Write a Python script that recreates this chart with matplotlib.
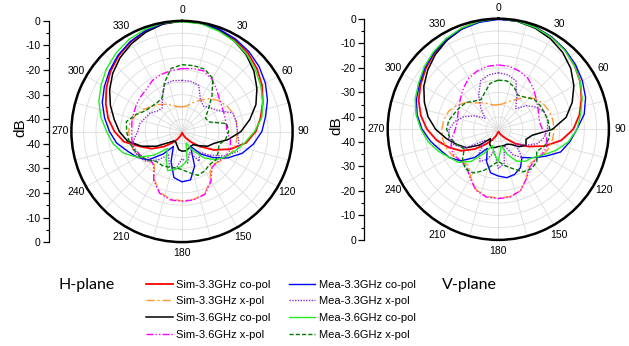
import numpy as np
import matplotlib.pyplot as plt
from matplotlib.lines import Line2D

# ============================================================
# DATA — pattern values in dB, every 10 degrees (0..350)
# ============================================================

angles = [0, 10, 20, 30, 40, 50, 60, 70, 80, 90, 100, 110,
          120, 130, 140, 150, 160, 170, 180, 190, 200, 210, 220, 230,
          240, 250, 260, 270, 280, 290, 300, 310, 320, 330, 340, 350]

# ---- H-plane ----
h_sim33_co = [0, -0.3, -0.9, -1.9, -3.3, -5.2, -7.4, -10, -12.5, -15, -18.5, -24,
              -30, -35.5, -39.5, -42, -43.5, -44.5, -44.5, -44, -43, -41.5, -39, -35.5,
              -31, -27, -21, -17.5, -14.5, -12, -9.5, -7, -4.8, -3, -1.5, -0.5]
h_sim33_x = [-35, -34.5, -32.5, -30.3, -27.5, -25.5, -24, -23, -22.6, -22.5, -22.5, -22.8,
             -24, -25.7, -27, -22, -18, -17, -16.8, -17.2, -18.6, -22.5, -27.5, -26.5,
             -24.5, -23.8, -23.4, -23.3, -23.5, -25, -27, -29, -30.7, -32.2, -33.7, -34.7]
h_sim36_co = [0, -0.3, -1, -2.5, -4.3, -6.8, -9.8, -13, -17, -21, -26, -31,
              -33, -36, -38, -38, -37.5, -37, -37, -37.5, -39, -40, -40, -38,
              -33, -27.5, -22.5, -19.5, -17, -14, -11, -8.2, -5.8, -3.8, -2, -0.6]
h_sim36_x = [-19.4, -19, -18.8, -20.5, -23, -25, -26, -26.5, -26.8, -26.7, -25, -24,
             -24.5, -26, -26, -21.5, -17.8, -16.8, -16.5, -16.8, -18.3, -22, -27, -28,
             -25.5, -24.5, -24.3, -24.5, -24.3, -24, -23.5, -23, -22.5, -21, -20.3, -19.8]
h_mea33_co = [0, -0.2, -0.7, -1.5, -2.6, -4, -5.8, -8, -10.5, -12.5, -15.5, -19,
              -23.5, -28.5, -33, -38, -30, -25, -24.5, -26, -32, -38, -33, -27,
              -24, -21.5, -18, -15.5, -13, -10.5, -8.5, -6.5, -4.5, -2.8, -1.4, -0.4]
h_mea33_x = [-24.2, -24.3, -25, -30, -31.5, -30, -28, -23, -22.5, -22.5, -21.5, -21,
             -25, -30, -34, -31, -36, -32, -34, -29, -30, -34, -30, -26,
             -24.5, -23.8, -25, -27, -27.5, -29, -30, -32, -32.5, -29, -24.5, -24]
h_mea36_co = [-0.3, -0.5, -1.5, -2.5, -4, -6, -8, -10, -12, -15.5, -19, -22,
              -24.5, -27, -31, -36, -40, -33, -31, -29.5, -28, -32, -36, -30,
              -24, -19.5, -16.5, -14.3, -11.5, -9, -7, -5, -3.3, -1.8, -0.8, -0.2]
h_mea36_x = [-17.8, -17.8, -18, -20, -26, -31, -34, -33.5, -26.5, -26, -27, -29,
             -28, -27, -27.5, -26.5, -26, -28, -29.5, -30, -29.5, -29, -29, -27,
             -25, -24, -23, -22.5, -22, -25, -28, -29, -29.5, -29, -24, -19]

# ---- V-plane ----
v_sim33_co = [0, -0.2, -0.8, -1.7, -2.9, -4.5, -6.5, -9, -11.5, -14.5, -19, -25,
              -31, -36, -40, -42, -43, -44, -44, -43.5, -42, -40, -37, -32.5,
              -27.5, -23.5, -19.5, -16, -13, -10.5, -8.5, -6.5, -4.5, -2.8, -1.3, -0.4]
v_sim33_x = [-35, -34.5, -33, -31, -28, -25.5, -24, -23, -22.5, -22.3, -22.5, -23,
             -24, -25.5, -26, -22, -18.5, -17.2, -17, -17.3, -18.8, -22.5, -26, -25,
             -23.5, -22.5, -22, -22, -22.5, -23.5, -25.5, -28, -31, -32.5, -34, -35]
v_sim36_co = [0, -0.4, -1.2, -2.5, -4.2, -6.5, -9.5, -13, -17, -23, -31, -33,
              -32, -34, -37, -38, -38, -38, -38, -37.5, -37, -38, -40, -35,
              -30, -27, -23.5, -19.5, -16, -13, -10, -7.5, -5.2, -3.2, -1.6, -0.5]
v_sim36_x = [-18.8, -19, -19.8, -21, -23, -25, -26.5, -27.5, -28, -27, -25, -24,
             -24.5, -25.5, -25, -22, -18.5, -17, -16.8, -17, -18.5, -22, -25, -25,
             -24, -24.5, -26, -27.5, -28, -27.5, -26.5, -25, -23, -21, -19.8, -19]
v_mea33_co = [-0.3, -0.3, -0.8, -1.6, -2.7, -4, -5.5, -7.2, -9.5, -13, -15.5, -18,
              -23, -27, -30, -27, -25.5, -25, -26, -27, -31, -36, -30, -25,
              -22, -20, -17, -14, -11.5, -9.5, -8, -6, -4.3, -2.8, -1.6, -0.8]
v_mea33_x = [-22, -22.5, -24, -30, -34, -30, -27, -25, -24.5, -25, -26, -28,
             -32, -36, -30, -33, -38, -31, -29, -36, -32, -30, -33, -38,
             -30, -26, -24.5, -25, -27, -30, -34, -38, -34, -29, -24, -22.5]
v_mea36_co = [0, -0.3, -0.9, -1.8, -3, -4.6, -6.5, -8.7, -11, -13, -16, -20,
              -24, -27, -28, -30, -34, -38, -32, -35, -38, -34, -28, -24,
              -22, -19, -16, -13.5, -11, -9, -7.5, -5.6, -3.9, -2.4, -1.2, -0.4]
v_mea36_x = [-25, -25, -26.5, -29, -28, -26, -25.5, -25, -24.5, -24, -24, -25,
             -27, -24.5, -24, -25, -28, -30, -32, -30, -27, -24.5, -24, -26,
             -29, -27, -25, -24, -24.5, -26, -27, -28, -30, -31, -29, -26]

labels = ['Sim-3.3GHz co-pol', 'Sim-3.3GHz x-pol', 'Sim-3.6GHz co-pol', 'Sim-3.6GHz x-pol',
          'Mea-3.3GHz co-pol', 'Mea-3.3GHz x-pol', 'Mea-3.6GHz co-pol', 'Mea-3.6GHz x-pol']

h_series = [h_sim33_co, h_sim33_x, h_sim36_co, h_sim36_x,
            h_mea33_co, h_mea33_x, h_mea36_co, h_mea36_x]
v_series = [v_sim33_co, v_sim33_x, v_sim36_co, v_sim36_x,
            v_mea33_co, v_mea33_x, v_mea36_co, v_mea36_x]

# ============================================================
# STYLES
# ============================================================

styles = [
    dict(color='#ff0000', lw=1.3, ls='-'),
    dict(color='#ff9933', lw=1.0, ls=(0, (6, 2, 1.5, 2))),
    dict(color='#000000', lw=1.1, ls='-'),
    dict(color='#ff00ff', lw=1.0, ls=(0, (5, 1.5, 1, 1.5, 1, 1.5))),
    dict(color='#0000ff', lw=1.0, ls='-'),
    dict(color='#8a2be2', lw=1.0, ls=(0, (1, 1))),
    dict(color='#22ee22', lw=1.0, ls='-'),
    dict(color='#007a00', lw=1.0, ls=(0, (3, 1.5))),
]

plt.rcParams['font.family'] = ['Liberation Sans', 'DejaVu Sans']

fig = plt.figure(figsize=(6.29, 3.46), dpi=100)

theta = np.deg2rad(angles + [360])


def polar_panel(rect, series):
    ax = fig.add_axes(rect, projection='polar')
    ax.set_theta_zero_location('N')
    ax.set_theta_direction(-1)
    ax.set_ylim(-45, 0)
    ax.set_yticks(np.arange(-40, 0, 5))
    ax.set_yticklabels([])
    ax.set_xticks(np.deg2rad(np.arange(0, 360, 30)))
    ax.set_xticklabels([str(a) for a in range(0, 360, 30)], fontsize=7.5)
    ax.set_xticks(np.deg2rad(np.arange(15, 360, 30)), minor=True)
    ax.grid(True, which='both', color='#dcdcdc', lw=0.6)
    ax.tick_params(axis='x', which='major', direction='in', length=4, width=1, pad=1)
    ax.tick_params(axis='x', which='minor', direction='in', length=2.5, width=0.8)
    ax.spines['polar'].set_linewidth(1.8)
    for vals, st in zip(series, styles):
        ax.plot(theta, vals + [vals[0]], **st)
    return ax


def db_axis(x, bottom, height):
    ax = fig.add_axes([x, bottom, 0.0001, height])
    ax.patch.set_visible(False)
    for s in ['right', 'top', 'bottom']:
        ax.spines[s].set_visible(False)
    ax.spines['left'].set_linewidth(0.9)
    ax.set_xticks([])
    ax.set_ylim(-45, 45)
    ax.set_yticks([45, 35, 25, 15, 5, -5, -15, -25, -35, -45])
    ax.set_yticklabels(['0', '-10', '-20', '-30', '-40', '-40', '-30', '-20', '-10', '0'],
                       fontsize=7.5)
    ax.set_yticks([40, 30, 20, 10, 0, -10, -20, -30, -40], minor=True)
    ax.tick_params(axis='y', which='major', length=4, width=0.9, pad=2)
    ax.tick_params(axis='y', which='minor', length=2.5, width=0.8)
    return ax


r_px = 110.6
W, H = 629, 346

# H-plane (left)
polar_panel([(182 - r_px) / W, 1 - (131.5 + r_px) / H, 2 * r_px / W, 2 * r_px / H], h_series)
db_axis(49 / W, 1 - (131.5 + r_px) / H, 2 * r_px / H)
fig.text(20 / W, 1 - 128 / H, 'dB', rotation=90, ha='center', va='center', fontsize=11)

# V-plane (right)
polar_panel([(498.3 - r_px) / W, 1 - (129.3 + r_px) / H, 2 * r_px / W, 2 * r_px / H], v_series)
db_axis(364.3 / W, 1 - (129.3 + r_px) / H, 2 * r_px / H)
fig.text(336 / W, 1 - 126 / H, 'dB', rotation=90, ha='center', va='center', fontsize=11)

# plane labels
fig.text(87 / W, 1 - 285 / H, 'H-plane', ha='center', va='center', fontsize=11.5, family='Lato')
fig.text(469 / W, 1 - 285 / H, 'V-plane', ha='center', va='center', fontsize=11.5, family='Lato')

# legend
handles = [Line2D([], [], **st) for st in styles]
fig.legend(handles, labels, ncol=2, loc='center',
           bbox_to_anchor=(281 / W, 1 - 309.5 / H), frameon=False, fontsize=8,
           handlelength=2.4, handletextpad=0.3, columnspacing=1.6,
           labelspacing=0.6, borderpad=0, borderaxespad=0)

plt.savefig('out.png', dpi=100)
